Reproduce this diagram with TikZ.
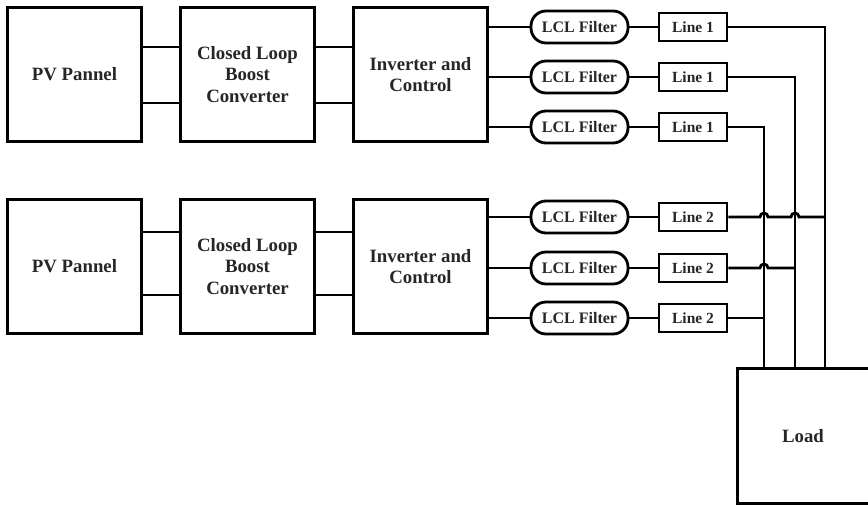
\documentclass[tikz,border=0pt]{standalone}
\usepackage{fontspec}
\setmainfont{Liberation Serif}
\begin{document}
\begin{tikzpicture}[x=1pt,y=-1pt,
  blk/.style={draw, line width=3pt, minimum width=134pt, minimum height=134pt, inner sep=0pt, align=center, text=black!85,
    font=\fontsize{18.8}{21.5}\selectfont\bfseries},
  filt/.style={draw, line width=2.8pt, rounded corners=15pt, minimum width=97pt, minimum height=32pt, inner sep=0pt, text=black!85,
    font=\fontsize{16}{18}\selectfont\bfseries},
  linebox/.style={draw, line width=2.8pt, minimum width=68pt, minimum height=28pt, inner sep=0pt, text=black!85,
    font=\fontsize{15.5}{18}\selectfont\bfseries},
  wire/.style={line width=2.8pt},
  hop/.style={line width=2.8pt}]
\useasboundingbox (0,0) rectangle (868,505);
% row 1
\node[blk] (pv1) at (74.5,74.5) {PV Pannel};
\node[blk] (bc1) at (247.5,74.5) {Closed Loop\\Boost\\Converter};
\node[blk] (inv1) at (420.5,74.5) {Inverter and\\Control};
% row 2
\node[blk] (pv2) at (74.5,266.5) {PV Pannel};
\node[blk] (bc2) at (247.5,266.5) {Closed Loop\\Boost\\Converter};
\node[blk] (inv2) at (420.5,266.5) {Inverter and\\Control};
% filters and lines
\foreach \i/\y/\n in {1/27/1,2/77/1,3/127/1,4/217/2,5/268/2,6/318/2}{
  \node[filt] (f\i) at (579.5,\y) {LCL Filter};
  \node[linebox] (l\i) at (693,\y) {Line \n};
  \draw[wire] (f\i.east) -- (l\i.west);
}
% load
\node[draw, line width=3pt, minimum width=150pt, minimum height=135pt, inner sep=0pt] (load) at (812,435.5) {};
\node[text=black!85, font=\fontsize{18.8}{21.5}\selectfont\bfseries] (loadtxt) at (803,436) {Load};
\coordinate (b1) at (825,368);
\coordinate (b2) at (795,368);
\coordinate (b3) at (764,368);
% PV to boost, boost to inverter
\foreach \r/\a/\b in {1/47/103,2/232/295}{
  \draw[wire] (pv\r.east |- 0,\a) -- (bc\r.west |- 0,\a);
  \draw[wire] (pv\r.east |- 0,\b) -- (bc\r.west |- 0,\b);
  \draw[wire] (bc\r.east |- 0,\a) -- (inv\r.west |- 0,\a);
  \draw[wire] (bc\r.east |- 0,\b) -- (inv\r.west |- 0,\b);
}
% inverter to filters
\foreach \i in {1,2,3}{ \draw[wire] (inv1.east |- f\i.west) -- (f\i.west); }
\foreach \i in {4,5,6}{ \draw[wire] (inv2.east |- f\i.west) -- (f\i.west); }
% lines to load
\draw[wire] (l1.east) -| (b1);
\draw[wire] (l2.east) -| (b2);
\draw[wire] (l3.east) -| (b3);
\draw[hop] (l4.east) -- (760,217) arc[start angle=180,end angle=0,radius=4pt] -- (791,217) arc[start angle=180,end angle=0,radius=4pt] -- (825,217);
\draw[hop] (l5.east) -- (760,268) arc[start angle=180,end angle=0,radius=4pt] -- (795,268);
\draw[wire] (l6.east) -- (764,318);
\end{tikzpicture}
\end{document}
